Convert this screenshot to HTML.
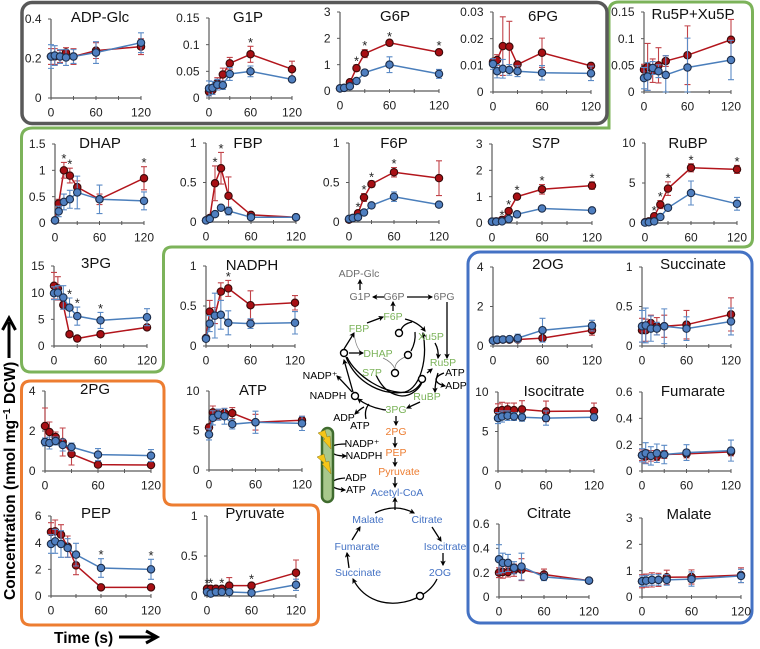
<!DOCTYPE html>
<html lang="en">
<head>
<meta charset="utf-8">
<title>Metabolite time courses</title>
<style>
html,body{margin:0;padding:0;background:#fff;}
svg{display:block;font-family:"Liberation Sans",Arial,sans-serif;}
.path-label{font-size:10.5px;text-anchor:middle;dominant-baseline:central;}
.arrow{fill:none;stroke:#000;stroke-width:1.3;marker-end:url(#head);}
.plain{fill:none;stroke:#000;stroke-width:1.3;}
.thin{fill:none;stroke:#777;stroke-width:.7;}
.node{fill:#fff;stroke:#000;stroke-width:1.4;}
</style>
</head>
<body>
<svg id="figure" xmlns="http://www.w3.org/2000/svg" width="760" height="649" viewBox="0 0 760 649">
<defs>
<marker id="head" viewBox="0 0 10 10" refX="8" refY="5" markerWidth="5.5" markerHeight="5.5" markerUnits="userSpaceOnUse" orient="auto"><path d="M0 0L10 5L0 10L2.5 5Z" fill="#000"/></marker>
</defs>
<rect width="760" height="649" fill="#fff"/>

<path d="M33 128H609V12Q609 2 619 2H743Q752.500 2 752.500 12V238Q752.500 247 743 247H172Q163.500 247 163.500 256V362Q163.500 372 154 372H31Q21.500 372 21.500 362V138Q21.500 128 33 128Z" fill="none" stroke="#7cb35a" stroke-width="3"/>
<rect x="22" y="2.500" width="585" height="121" rx="10" fill="#fff" stroke="#595959" stroke-width="3.500"/>
<path d="M31 381H155Q164 381 164 390V496Q164 505 173 505H310Q318.500 505 318.500 514V616Q318.500 625 310 625H31Q21.500 625 21.500 616V390Q21.500 381 31 381Z" fill="none" stroke="#ed7d31" stroke-width="3"/>
<rect x="468" y="252" width="284" height="371" rx="12" fill="none" stroke="#4472c4" stroke-width="3"/>

<g id="charts"></g>

<g>
<text transform="translate(15,600) rotate(-90)" font-size="15.600" font-weight="bold" fill="#000">Concentration (nmol mg<tspan font-size="10" dy="-5">−1</tspan><tspan dy="5"> DCW)</tspan></text>
<path d="M9 358V322M2.500 330L9 318L15.500 330" fill="none" stroke="#000" stroke-width="3"/>
</g>
<g>
<text x="54" y="643" font-size="15.500" font-weight="bold" fill="#000">Time (s)</text>
<path d="M119 637H154M146 631L157 637L146 643" fill="none" stroke="#000" stroke-width="3"/>
</g>

<g>
<g>
<path class="arrow" d="M360 290V280"/>
<path class="arrow" d="M384 297H373"/>
<path class="arrow" d="M393 311V302"/>
<path class="arrow" d="M407 297H432"/>
<path class="arrow" d="M447 302V358"/>
<path class="arrow" d="M367 323L383 317"/>
<path class="arrow" d="M405 319Q418 322 425 331"/>
<path class="plain" d="M412 322Q403 324 401 330"/>
<path class="plain" d="M415 332Q416 342 411 351"/>
<path class="thin" d="M405 357Q394 362 395 370"/>
<path class="thin" d="M383 358Q392 362 395 369"/>
<path class="thin" d="M354 333Q356 350 363 353"/>
<path class="arrow" d="M349 353H363"/>
<path class="arrow" d="M344 349L354 333"/>
<path class="arrow" d="M346 357C357 385 385 396 405 392C420 388 428 360 423 333"/>
<path class="plain" d="M347 357C355 375 385 396 410 392C416 390 419 386 421 383"/>
<path class="plain" d="M376 375C383 390 392 395 402 396C412 396 420 388 422 382"/>
<path class="arrow" d="M386 410Q370 408 358 399"/>
<path class="arrow" d="M353 392L344 360"/>
<path class="arrow" d="M352 392Q345 384 337 376"/>
<path class="arrow" d="M427 373L432 369"/>
<path class="arrow" d="M435 343Q439 350 438 358"/>
<path class="arrow" d="M438 373Q435 382 435 392"/>
<path class="arrow" d="M444 373Q436 376 436 380Q437 384 445 386"/>
<path class="arrow" d="M420 402L407 408"/>
<path class="arrow" d="M364 407Q360 409 355 414"/>
<path class="plain" d="M369 404Q364 410 366 419"/>
<path class="arrow" d="M396 416V425"/>
<path class="arrow" d="M395 437V447"/>
<path class="arrow" d="M395 458V466"/>
<path class="arrow" d="M395 477V487"/>
<path class="arrow" d="M395 510V498"/>
<path class="arrow" d="M375 513Q395 503 414 513"/>
<path class="arrow" d="M432 527L441 541"/>
<path class="arrow" d="M443 553V565"/>
<path class="arrow" d="M437 579C425 605 372 617 353 579"/>
<path class="arrow" d="M349 568L347 553"/>
<path class="arrow" d="M352 540L360 527"/>
<path class="arrow" d="M346 444Q328 444 331 451Q333 456 346 456"/>
<path class="arrow" d="M345 478Q332 479 332 484Q332 489 345 490"/>
</g>
<g>
<circle class="node" cx="399" cy="333" r="3.500"/>
<circle class="node" cx="408" cy="355" r="3.500"/>
<circle class="node" cx="344" cy="353" r="3.500"/>
<circle class="node" cx="395" cy="373" r="3.500"/>
<circle class="node" cx="422" cy="379" r="3.500"/>
<circle class="node" cx="355" cy="396" r="3.500"/>
<circle class="node" cx="420" cy="596" r="3.500"/>
</g>
<rect x="322" y="428" width="11" height="74" rx="5.500" fill="#a8c88c" stroke="#3f6b2e" stroke-width="2.500"/>
<path d="M318 433L325 430L327 437L330 436L331 449L323 440L325 439Z" fill="#f5c518" stroke="#8a7a20" stroke-width=".5"/>
<path d="M317 457L324 454L326 462L329 461L331 474L322 464L324 463Z" fill="#f5c518" stroke="#8a7a20" stroke-width=".5"/>
<g>
<text class="path-label" fill="#6e6e6e" x="359" y="274">ADP-Glc</text>
<text class="path-label" fill="#6e6e6e" x="360" y="297">G1P</text>
<text class="path-label" fill="#6e6e6e" x="394" y="297">G6P</text>
<text class="path-label" fill="#6e6e6e" x="444" y="297">6PG</text>
<text class="path-label" fill="#7cb35a" x="393" y="317">F6P</text>
<text class="path-label" fill="#7cb35a" x="359" y="329">FBP</text>
<text class="path-label" fill="#7cb35a" x="431" y="337">Xu5P</text>
<text class="path-label" fill="#7cb35a" x="378" y="354">DHAP</text>
<text class="path-label" fill="#7cb35a" x="443" y="363">Ru5P</text>
<text class="path-label" fill="#7cb35a" x="372" y="373">S7P</text>
<text class="path-label" fill="#7cb35a" x="427" y="397">RuBP</text>
<text class="path-label" fill="#7cb35a" x="396" y="410">3PG</text>
<text class="path-label" fill="#000" x="455" y="373">ATP</text>
<text class="path-label" fill="#000" x="456" y="386">ADP</text>
<text class="path-label" fill="#000" x="320" y="376">NADP⁺</text>
<text class="path-label" fill="#000" x="328" y="396">NADPH</text>
<text class="path-label" fill="#000" x="344" y="418">ADP</text>
<text class="path-label" fill="#000" x="360" y="426">ATP</text>
<text class="path-label" fill="#ed7d31" x="396" y="432">2PG</text>
<text class="path-label" fill="#ed7d31" x="396" y="453">PEP</text>
<text class="path-label" fill="#ed7d31" x="399" y="472">Pyruvate</text>
<text class="path-label" fill="#4472c4" x="397" y="493">Acetyl-CoA</text>
<text class="path-label" fill="#4472c4" x="368" y="520">Malate</text>
<text class="path-label" fill="#4472c4" x="427" y="520">Citrate</text>
<text class="path-label" fill="#4472c4" x="357" y="547">Fumarate</text>
<text class="path-label" fill="#4472c4" x="445" y="547">Isocitrate</text>
<text class="path-label" fill="#4472c4" x="358" y="573">Succinate</text>
<text class="path-label" fill="#4472c4" x="440" y="573">2OG</text>
<text class="path-label" fill="#000" x="362" y="444">NADP⁺</text>
<text class="path-label" fill="#000" x="364" y="456">NADPH</text>
<text class="path-label" fill="#000" x="356" y="478">ADP</text>
<text class="path-label" fill="#000" x="356" y="490">ATP</text>
</g>
</g>
</svg>

<script>
const times = [0, 5, 12, 20, 30, 60, 120];
const xTickValues = [0, 30, 60, 90, 120];
const xTickLabels = ['0', '60', '120'];

const adpGlcTicks = ['0', '0.2', '0.4'];
const adpGlcRed = [0.21, 0.21, 0.21, 0.23, 0.21, 0.24, 0.26];
const adpGlcRedErr = [0.04, 0.04, 0.03, 0.025, 0.04, 0.04, 0.04];
const adpGlcBlue = [0.21, 0.215, 0.21, 0.205, 0.21, 0.23, 0.28];
const adpGlcBlueErr = [0.06, 0.05, 0.035, 0.04, 0.035, 0.055, 0.05];
const adpGlcStars = [];

const g1pTicks = ['0', '0.05', '0.1', '0.15'];
const g1pRed = [0.012, 0.015, 0.028, 0.044, 0.065, 0.082, 0.054];
const g1pRedErr = [0.008, 0.008, 0.01, 0.012, 0.011, 0.015, 0.015];
const g1pBlue = [0.018, 0.019, 0.025, 0.024, 0.045, 0.05, 0.035];
const g1pBlueErr = [0.014, 0.012, 0.01, 0.008, 0.012, 0.01, 0.005];
const g1pStars = [60];

const g6pTicks = ['0', '1', '2', '3'];
const g6pRed = [0.1, 0.12, 0.33, 0.87, 1.42, 1.83, 1.47];
const g6pRedErr = [0.03, 0.03, 0.08, 0.12, 0.15, 0.08, 0.1];
const g6pBlue = [0.1, 0.12, 0.18, 0.38, 0.7, 1.0, 0.65];
const g6pBlueErr = [0.03, 0.03, 0.05, 0.08, 0.08, 0.3, 0.17];
const g6pStars = [20, 30, 60, 120];

const pg6Ticks = ['0', '0.01', '0.02', '0.03'];
const pg6Red = [0.0113, 0.012, 0.0172, 0.017, 0.0103, 0.0147, 0.0098];
const pg6RedErr = [0.001, 0.002, 0.011, 0.0095, 0.001, 0.0055, 0.001];
const pg6Blue = [0.0105, 0.0078, 0.0087, 0.0083, 0.0078, 0.0072, 0.007];
const pg6BlueErr = [0.002, 0.0025, 0.0035, 0.002, 0.002, 0.0027, 0.0027];
const pg6Stars = [];

const ru5pTicks = ['0', '0.05', '0.1', '0.15'];
const ru5pRed = [0.042, 0.047, 0.04, 0.05, 0.058, 0.069, 0.098];
const ru5pRedErr = [0.01, 0.044, 0.022, 0.033, 0.01, 0.055, 0.038];
const ru5pBlue = [0.026, 0.029, 0.045, 0.039, 0.032, 0.046, 0.06];
const ru5pBlueErr = [0.02, 0.026, 0.012, 0.012, 0.036, 0.055, 0.037];
const ru5pStars = [];

const dhapTicks = ['0', '0.5', '1', '1.5'];
const dhapRed = [0.05, 0.37, 1.0, 0.9, 0.68, 0.45, 0.85];
const dhapRedErr = [0.02, 0.08, 0.15, 0.14, 0.12, 0.1, 0.22];
const dhapBlue = [0.05, 0.22, 0.4, 0.45, 0.58, 0.45, 0.42];
const dhapBlueErr = [0.02, 0.1, 0.15, 0.17, 0.31, 0.27, 0.17];
const dhapStars = [12, 20, 120];

const fbpTicks = ['0', '0.5', '1'];
const fbpRed = [0.02, 0.05, 0.49, 0.68, 0.33, 0.09, 0.06];
const fbpRedErr = [0.01, 0.01, 0.22, 0.2, 0.24, 0.02, 0.01];
const fbpBlue = [0.02, 0.04, 0.1, 0.18, 0.14, 0.06, 0.06];
const fbpBlueErr = [0.01, 0.01, 0.02, 0.02, 0.05, 0.02, 0.01];
const fbpStars = [12, 20];

const f6pTicks = ['0', '0.5', '1'];
const f6pRed = [0.03, 0.05, 0.11, 0.31, 0.48, 0.63, 0.555];
const f6pRedErr = [0.01, 0.01, 0.03, 0.05, 0.04, 0.06, 0.22];
const f6pBlue = [0.04, 0.05, 0.06, 0.12, 0.21, 0.32, 0.22];
const f6pBlueErr = [0.01, 0.01, 0.01, 0.02, 0.03, 0.06, 0.01];
const f6pStars = [12, 20, 30, 60];

const s7pTicks = ['0', '1', '2', '3'];
const s7pRed = [0.05, 0.06, 0.12, 0.45, 1.0, 1.28, 1.42];
const s7pRedErr = [0.01, 0.01, 0.03, 0.1, 0.1, 0.18, 0.14];
const s7pBlue = [0.05, 0.05, 0.06, 0.15, 0.33, 0.55, 0.48];
const s7pBlueErr = [0.01, 0.01, 0.01, 0.03, 0.05, 0.05, 0.04];
const s7pStars = [12, 20, 30, 60, 120];

const rubpTicks = ['0', '5', '10'];
const rubpRed = [0.1, 0.2, 0.85, 2.3, 4.3, 6.9, 6.7];
const rubpRedErr = [0.03, 0.05, 0.2, 0.5, 0.85, 0.5, 0.5];
const rubpBlue = [0.05, 0.1, 0.2, 0.75, 1.9, 3.75, 2.4];
const rubpBlueErr = [0.03, 0.03, 0.05, 0.2, 0.25, 1.5, 0.8];
const rubpStars = [12, 20, 30, 60, 120];

const pg3Ticks = ['0', '5', '10', '15'];
const pg3Red = [11.3, 10.8, 7.7, 2.2, 1.4, 2.2, 3.5];
const pg3RedErr = [2.5, 2.2, 0.8, 0.3, 0.2, 0.3, 0.3];
const pg3Blue = [9.9, 10, 9.1, 7.2, 5.6, 4.8, 5.4];
const pg3BlueErr = [1.2, 1.3, 2.2, 1.8, 1.7, 1.5, 1.6];
const pg3Stars = [20, 30, 60];

const nadphTicks = ['0', '0.5', '1'];
const nadphRed = [0.1, 0.43, 0.38, 0.68, 0.72, 0.51, 0.54];
const nadphRedErr = [0.02, 0.14, 0.1, 0.11, 0.1, 0.18, 0.09];
const nadphBlue = [0.09, 0.28, 0.38, 0.39, 0.29, 0.28, 0.29];
const nadphBlueErr = [0.02, 0.1, 0.28, 0.18, 0.15, 0.06, 0.14];
const nadphStars = [30];

const pg2Ticks = ['0', '2', '4'];
const pg2Red = [2.25, 1.95, 1.7, 1.45, 0.85, 0.32, 0.3];
const pg2RedErr = [0.9, 0.5, 0.25, 0.7, 0.55, 0.1, 0.05];
const pg2Blue = [1.45, 1.4, 1.5, 1.3, 1.2, 0.82, 0.77];
const pg2BlueErr = [0.2, 0.3, 0.2, 0.3, 0.2, 0.3, 0.3];
const pg2Stars = [];

const atpTicks = ['0', '5', '10'];
const atpRed = [5.4, 7.3, 7.0, 7.2, 7.2, 6.05, 6.3];
const atpRedErr = [0.4, 0.8, 0.6, 0.6, 0.7, 1.0, 0.5];
const atpBlue = [4.5, 6.6, 7.0, 6.8, 5.8, 6.05, 5.9];
const atpBlueErr = [0.7, 0.9, 0.7, 1.0, 0.6, 1.4, 0.9];
const atpStars = [];

const pepTicks = ['0', '2', '4', '6'];
const pepRed = [4.8, 4.85, 4.6, 3.7, 2.3, 0.65, 0.65];
const pepRedErr = [0.7, 0.85, 0.75, 0.8, 0.7, 0.05, 0.05];
const pepBlue = [3.9, 4.1, 3.9, 3.6, 3.1, 2.1, 2.0];
const pepBlueErr = [0.7, 0.9, 1.0, 0.7, 0.85, 0.7, 0.75];
const pepStars = [60, 120];

const pyruvateTicks = ['0', '0.5', '1'];
const pyruvateRed = [0.09, 0.09, 0.09, 0.09, 0.13, 0.13, 0.29];
const pyruvateRedErr = [0.02, 0.02, 0.02, 0.02, 0.1, 0.03, 0.16];
const pyruvateBlue = [0.05, 0.03, 0.05, 0.05, 0.05, 0.04, 0.14];
const pyruvateBlueErr = [0.02, 0.02, 0.02, 0.02, 0.04, 0.03, 0.07];
const pyruvateStars = [0, 5, 20, 60];

const og2Ticks = ['0', '2', '4'];
const og2Red = [0.28, 0.3, 0.32, 0.32, 0.33, 0.4, 0.8];
const og2RedErr = [0.05, 0.05, 0.05, 0.12, 0.1, 0.1, 0.25];
const og2Blue = [0.27, 0.32, 0.33, 0.35, 0.4, 0.8, 1.03];
const og2BlueErr = [0.05, 0.05, 0.05, 0.1, 0.2, 0.6, 0.27];
const og2Stars = [];

const succinateTicks = ['0', '0.5', '1'];
const succinateRed = [0.2, 0.2, 0.29, 0.25, 0.25, 0.27, 0.4];
const succinateRedErr = [0.15, 0.14, 0.1, 0.11, 0.14, 0.18, 0.21];
const succinateBlue = [0.25, 0.26, 0.22, 0.22, 0.25, 0.22, 0.31];
const succinateBlueErr = [0.2, 0.22, 0.16, 0.08, 0.22, 0.15, 0.17];
const succinateStars = [];

const isocitrateTicks = ['0', '5', '10'];
const isocitrateRed = [7.6, 7.7, 7.8, 7.7, 7.8, 7.55, 7.6];
const isocitrateRedErr = [0.9, 1.0, 0.8, 0.9, 1.1, 1.3, 1.0];
const isocitrateBlue = [6.7, 6.9, 7.0, 6.9, 6.8, 6.7, 6.8];
const isocitrateBlueErr = [0.7, 0.7, 0.6, 0.5, 0.5, 0.9, 0.4];
const isocitrateStars = [];

const fumarateTicks = ['0', '0.2', '0.4', '0.6'];
const fumarateRed = [0.12, 0.11, 0.115, 0.11, 0.125, 0.13, 0.145];
const fumarateRedErr = [0.04, 0.05, 0.04, 0.03, 0.03, 0.03, 0.03];
const fumarateBlue = [0.12, 0.135, 0.115, 0.135, 0.125, 0.14, 0.155];
const fumarateBlueErr = [0.05, 0.08, 0.07, 0.07, 0.07, 0.06, 0.08];
const fumarateStars = [];

const citrateTicks = ['0', '0.2', '0.4', '0.6'];
const citrateRed = [0.2, 0.205, 0.205, 0.22, 0.225, 0.185, 0.135];
const citrateRedErr = [0.04, 0.05, 0.04, 0.05, 0.09, 0.045, 0.01];
const citrateBlue = [0.31, 0.28, 0.28, 0.24, 0.25, 0.165, 0.135];
const citrateBlueErr = [0.12, 0.08, 0.07, 0.05, 0.11, 0.03, 0.02];
const citrateStars = [];

const malateTicks = ['0', '1', '2', '3'];
const malateRed = [0.6, 0.62, 0.65, 0.65, 0.75, 0.76, 0.83];
const malateRedErr = [0.25, 0.25, 0.27, 0.25, 0.27, 0.27, 0.28];
const malateBlue = [0.6, 0.62, 0.65, 0.65, 0.65, 0.68, 0.8];
const malateBlueErr = [0.2, 0.2, 0.2, 0.2, 0.2, 0.27, 0.25];
const malateStars = [];

const SVGNS = 'http://www.w3.org/2000/svg';
const chartsRoot = document.getElementById('charts');
const seriesStyles = {
  red: { line: '#b3151c', err: '#c2444a', fill: '#a80f14', edge: '#3a0a0a' },
  blue: { line: '#4a7ebb', err: '#5c8bc6', fill: '#4f7fc0', edge: '#1c2c48' }
};

function make(tag, parent, attrs) {
  const node = document.createElementNS(SVGNS, tag);
  for (const key in attrs) node.setAttribute(key, attrs[key]);
  parent.appendChild(node);
  return node;
}

function drawSeries(group, kind, values, errors, xScale, yScale, y0) {
  const style = seriesStyles[kind];
  const seriesGroup = make('g', group, {});
  
  
  const line = make('polyline', seriesGroup, {
    points: values.map((v, i) => xScale(times[i]) + ',' + yScale(v)).join(' '),
    fill: 'none', stroke: style.line, 'stroke-width': 1.5
  });
  
  
  values.forEach((v, i) => {
    const x = xScale(times[i]);
    const top = yScale(v + errors[i]);
    const bottom = Math.min(yScale(v - errors[i]), y0);
    const bar = make('path', seriesGroup, {
      d: 'M' + x + ' ' + top + 'V' + bottom + 'M' + (x - 3) + ' ' + top + 'H' + (x + 3) + 'M' + (x - 3) + ' ' + bottom + 'H' + (x + 3),
      fill: 'none', stroke: style.err, 'stroke-width': 1.1
    });
    
    
  });
  values.forEach((v, i) => {
    const point = make('circle', seriesGroup, {
      cx: xScale(times[i]), cy: yScale(v), r: 3.7,
      fill: style.fill, stroke: style.edge, 'stroke-width': 1.1
    });
    
    
  });
}

function drawPanel(slug, title, box, ticks, red, redErr, blue, blueErr, stars) {
  const xScale = t => box.x0 + (box.x1 - box.x0) * t / 120;
  const maxValue = parseFloat(ticks[ticks.length - 1]);
  const yScale = v => box.y0 - (box.y0 - box.yTop) * v / maxValue;
  const group = make('g', chartsRoot, {});
  
  

  const axisColor = '#5a5a5a';
  const yAxis = make('path', group, { d: 'M' + box.x0 + ' ' + box.yTop + 'V' + box.y0, stroke: axisColor, 'stroke-width': 1.2, fill: 'none' });
  
  
  const xAxis = make('path', group, { d: 'M' + box.x0 + ' ' + box.y0 + 'H' + box.x1, stroke: axisColor, 'stroke-width': 1.2, fill: 'none' });
  
  

  ticks.forEach(label => {
    const y = yScale(parseFloat(label));
    const mark = make('path', group, { d: 'M' + (box.x0 - 3) + ' ' + y + 'H' + box.x0, stroke: axisColor, 'stroke-width': 1 });
    
    
    const text = make('text', group, { x: box.x0 - 9.5, y: y + 4.2, 'font-size': 12, 'text-anchor': 'end', fill: '#222' });
    text.textContent = label;
    
    
  });
  xTickValues.forEach(t => {
    const mark = make('path', group, { d: 'M' + xScale(t) + ' ' + (box.y0 - 2) + 'V' + (box.y0 + 2), stroke: axisColor, 'stroke-width': 1 });
    
    
  });
  xTickLabels.forEach(label => {
    const text = make('text', group, { x: xScale(parseFloat(label)), y: box.y0 + 18.5, 'font-size': 12, 'text-anchor': 'middle', fill: '#222' });
    text.textContent = label;
    
    
  });

  drawSeries(group, 'red', red, redErr, xScale, yScale, box.y0);
  drawSeries(group, 'blue', blue, blueErr, xScale, yScale, box.y0);

  stars.forEach(t => {
    const i = times.indexOf(t);
    const top = Math.min(yScale(red[i] + redErr[i]), yScale(blue[i] + blueErr[i]));
    const star = make('text', group, { x: xScale(t), y: top + 0.5, 'font-size': 13, 'text-anchor': 'middle', fill: '#222' });
    star.textContent = '*';
    
    
  });

  const heading = make('text', group, { x: box.titleX, y: box.titleY, 'font-size': 15, 'text-anchor': 'middle', fill: '#111' });
  heading.textContent = title;
  
  
}

drawPanel('adp-glc', 'ADP-Glc', { x0: 51, x1: 141, y0: 98, yTop: 19, titleX: 100, titleY: 22 }, adpGlcTicks, adpGlcRed, adpGlcRedErr, adpGlcBlue, adpGlcBlueErr, adpGlcStars);
drawPanel('g1p', 'G1P', { x0: 209, x1: 292, y0: 98, yTop: 18, titleX: 248, titleY: 22 }, g1pTicks, g1pRed, g1pRedErr, g1pBlue, g1pBlueErr, g1pStars);
drawPanel('g6p', 'G6P', { x0: 340, x1: 439, y0: 91, yTop: 12, titleX: 395, titleY: 21 }, g6pTicks, g6pRed, g6pRedErr, g6pBlue, g6pBlueErr, g6pStars);
drawPanel('6pg', '6PG', { x0: 493, x1: 591, y0: 92, yTop: 12, titleX: 543, titleY: 21 }, pg6Ticks, pg6Red, pg6RedErr, pg6Blue, pg6BlueErr, pg6Stars);
drawPanel('ru5p-xu5p', 'Ru5P+Xu5P', { x0: 644, x1: 731, y0: 92, yTop: 12, titleX: 693, titleY: 19 }, ru5pTicks, ru5pRed, ru5pRedErr, ru5pBlue, ru5pBlueErr, ru5pStars);
drawPanel('dhap', 'DHAP', { x0: 55, x1: 144, y0: 223, yTop: 144, titleX: 100, titleY: 148 }, dhapTicks, dhapRed, dhapRedErr, dhapBlue, dhapBlueErr, dhapStars);
drawPanel('fbp', 'FBP', { x0: 206, x1: 296, y0: 222, yTop: 143, titleX: 248, titleY: 148 }, fbpTicks, fbpRed, fbpRedErr, fbpBlue, fbpBlueErr, fbpStars);
drawPanel('f6p', 'F6P', { x0: 349, x1: 439, y0: 222, yTop: 143, titleX: 394, titleY: 148 }, f6pTicks, f6pRed, f6pRedErr, f6pBlue, f6pBlueErr, f6pStars);
drawPanel('s7p', 'S7P', { x0: 492, x1: 592, y0: 223, yTop: 144, titleX: 546, titleY: 148 }, s7pTicks, s7pRed, s7pRedErr, s7pBlue, s7pBlueErr, s7pStars);
drawPanel('rubp', 'RuBP', { x0: 645, x1: 737, y0: 223, yTop: 143, titleX: 688, titleY: 148 }, rubpTicks, rubpRed, rubpRedErr, rubpBlue, rubpBlueErr, rubpStars);
drawPanel('3pg', '3PG', { x0: 54, x1: 147, y0: 346, yTop: 266, titleX: 96, titleY: 268 }, pg3Ticks, pg3Red, pg3RedErr, pg3Blue, pg3BlueErr, pg3Stars);
drawPanel('nadph', 'NADPH', { x0: 206, x1: 295, y0: 346, yTop: 266, titleX: 252, titleY: 270 }, nadphTicks, nadphRed, nadphRedErr, nadphBlue, nadphBlueErr, nadphStars);
drawPanel('2pg', '2PG', { x0: 45, x1: 151, y0: 471, yTop: 391, titleX: 95, titleY: 394 }, pg2Ticks, pg2Red, pg2RedErr, pg2Blue, pg2BlueErr, pg2Stars);
drawPanel('atp', 'ATP', { x0: 209, x1: 302, y0: 470, yTop: 391, titleX: 253, titleY: 395 }, atpTicks, atpRed, atpRedErr, atpBlue, atpBlueErr, atpStars);
drawPanel('pep', 'PEP', { x0: 51, x1: 151, y0: 596, yTop: 516, titleX: 96, titleY: 518 }, pepTicks, pepRed, pepRedErr, pepBlue, pepBlueErr, pepStars);
drawPanel('pyruvate', 'Pyruvate', { x0: 207, x1: 296, y0: 596, yTop: 516, titleX: 255, titleY: 518 }, pyruvateTicks, pyruvateRed, pyruvateRedErr, pyruvateBlue, pyruvateBlueErr, pyruvateStars);
drawPanel('2og', '2OG', { x0: 493, x1: 592, y0: 346, yTop: 267, titleX: 548, titleY: 269 }, og2Ticks, og2Red, og2RedErr, og2Blue, og2BlueErr, og2Stars);
drawPanel('succinate', 'Succinate', { x0: 642, x1: 731, y0: 346, yTop: 267, titleX: 693, titleY: 269 }, succinateTicks, succinateRed, succinateRedErr, succinateBlue, succinateBlueErr, succinateStars);
drawPanel('isocitrate', 'Isocitrate', { x0: 498, x1: 594, y0: 471, yTop: 392, titleX: 554, titleY: 396 }, isocitrateTicks, isocitrateRed, isocitrateRedErr, isocitrateBlue, isocitrateBlueErr, isocitrateStars);
drawPanel('fumarate', 'Fumarate', { x0: 642, x1: 731, y0: 471, yTop: 392, titleX: 693, titleY: 396 }, fumarateTicks, fumarateRed, fumarateRedErr, fumarateBlue, fumarateBlueErr, fumarateStars);
drawPanel('citrate', 'Citrate', { x0: 499, x1: 589, y0: 597, yTop: 524, titleX: 549, titleY: 518 }, citrateTicks, citrateRed, citrateRedErr, citrateBlue, citrateBlueErr, citrateStars);
drawPanel('malate', 'Malate', { x0: 642, x1: 741, y0: 597, yTop: 518, titleX: 689, titleY: 519 }, malateTicks, malateRed, malateRedErr, malateBlue, malateBlueErr, malateStars);
</script>
</body>
</html>
